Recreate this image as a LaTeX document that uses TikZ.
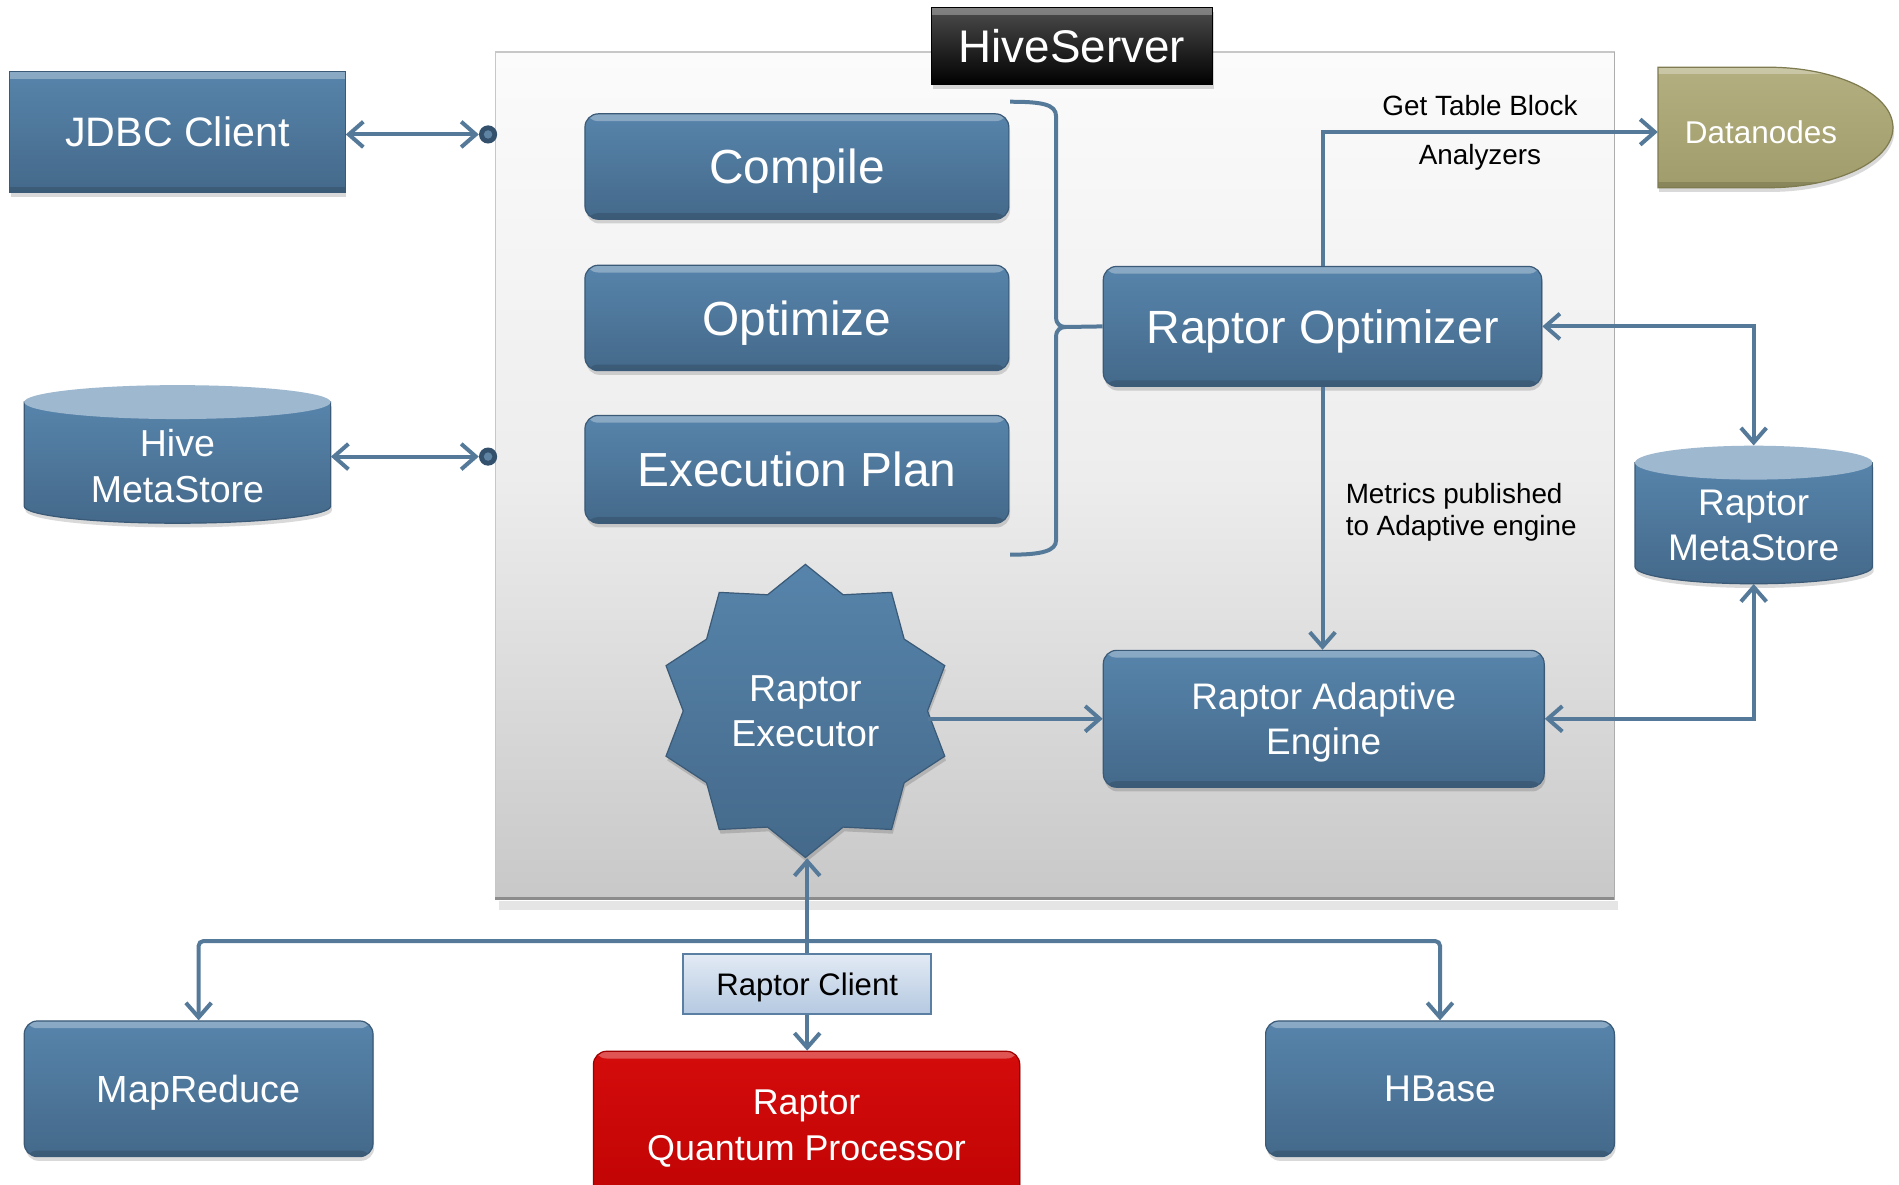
\documentclass[tikz,border=0pt]{standalone}
\usepackage{fontspec}
\setmainfont{Liberation Sans}
\usetikzlibrary{arrows.meta,shapes.geometric,shadows}
\definecolor{boxtop}{HTML}{5784AB}
\definecolor{boxbot}{HTML}{44698A}
\definecolor{boxline}{HTML}{3A5A77}
\definecolor{conncol}{HTML}{557A99}
\definecolor{redtop}{HTML}{D40B0B}
\definecolor{redbot}{HTML}{C10404}
\definecolor{redline}{HTML}{9E0000}
\definecolor{olivetop}{HTML}{B3AF80}
\definecolor{olivebot}{HTML}{A09C6B}
\definecolor{oliveline}{HTML}{7F7B50}
\definecolor{cyltopc}{HTML}{9EB8CF}
\definecolor{clienttop}{HTML}{E2EAF4}
\definecolor{clientbot}{HTML}{B5C9E1}
\definecolor{clientline}{HTML}{5B7FA3}
\definecolor{dotc}{HTML}{33506C}
\definecolor{dotin}{HTML}{5F83A3}
\definecolor{paneltop}{HTML}{FBFBFB}
\definecolor{panelmid}{HTML}{EDEDED}
\definecolor{panelbot}{HTML}{C8C8C8}
\tikzset{
  bevel/.style={path picture={
    \fill[white,opacity=0.30] (path picture bounding box.north west) rectangle ([yshift=-6pt]path picture bounding box.north east);
    \fill[black,opacity=0.14] ([yshift=5pt]path picture bounding box.south west) rectangle (path picture bounding box.south east);}},
  softshadow/.style={drop shadow={shadow xshift=1pt,shadow yshift=-3.5pt,opacity=0.15,fill=black}},
  bluebox/.style={rectangle,rounded corners=11pt,top color=boxtop,bottom color=boxbot,draw=boxline,line width=1pt,text=white,align=center,inner sep=0pt,text depth=0pt,bevel,softshadow},
  redbox/.style={bluebox,top color=redtop,bottom color=redbot,draw=redline},
  hsbox/.style={rectangle,top color=black!70,bottom color=black,draw=black,line width=1pt,text=white,inner sep=0pt,text depth=0pt,bevel,softshadow},
  clientbox/.style={rectangle,top color=clienttop,bottom color=clientbot,draw=clientline,line width=1.5pt,text=black,inner sep=0pt,text depth=0pt},
  starbox/.style={star,star points=10,star point ratio=1.2,inner sep=0pt,text depth=0pt,top color=boxtop,bottom color=boxbot,draw=boxline,line width=1pt,text=white,align=center,softshadow},
  wtext/.style={text=white,align=center,inner sep=0pt},
  lbl/.style={text=black,inner sep=0pt,font=\fontsize{23}{26.5}\selectfont},
  dotn/.style={circle,fill=dotc,minimum size=15pt,inner sep=0pt,path picture={\fill[dotin] (path picture bounding box.center) circle (3.5pt);}},
  ghost/.style={rectangle,inner sep=0pt},
  conn/.style={draw=conncol,line width=3.3pt,>={Straight Barb[length=12pt,width=21pt]}},
  fA/.style={font=\fontsize{39.5}{47}\selectfont},
  fB/.style={font=\fontsize{31}{37.5}\selectfont}
}
\begin{document}
\begin{tikzpicture}[x=1pt,y=-1pt]
\useasboundingbox (0,0) rectangle (1568,978);
\clip (0,0) rectangle (1568,978);
\fill[white] (0,0) rectangle (1568,978);

% HiveServer panel
\fill[black!10] (412,744) rectangle (1336,751);
\path[top color=paneltop,bottom color=panelbot,middle color=panelmid,draw=black!22,line width=1pt] (409,43) rectangle (1333,743);
\draw[black!32,line width=1.5pt] (1333,43) -- (1333,743);
\draw[black!45,line width=3pt] (409,742) -- (1333,742);
\node[hsbox,minimum width=232pt,minimum height=64pt,font=\fontsize{37.8}{45}\selectfont] (hs) at (885,38) {HiveServer};

% left side
\node[bluebox,rounded corners=0pt,minimum width=277pt,minimum height=100pt,font=\fontsize{34}{40}\selectfont] (jdbc) at (146.5,109) {JDBC Client};
\node[dotn] (jdot) at (403,111) {};

\path[top color=boxtop,bottom color=boxbot,draw=boxline,line width=1pt,softshadow]
  (20,332) -- (20,418) .. controls (20,425.7) and (76.7,432) .. (146.5,432)
  .. controls (216.3,432) and (273,425.7) .. (273,418) -- (273,332) -- cycle;
\fill[cyltopc] (146.5,332) ellipse [x radius=126.5, y radius=14];
\node[ghost,minimum width=253pt,minimum height=114pt] (hms) at (146.5,375) {};
\node[wtext,fB] (hmstext) at (146.5,385) {Hive\\MetaStore};
\node[dotn] (hdot) at (403,377) {};

% HiveServer content
\node[bluebox,minimum width=350pt,minimum height=87pt,fA] (comp) at (658,137.5) {Compile};
\node[bluebox,minimum width=350pt,minimum height=87pt,fA] (opt) at (658,262.5) {Optimize};
\node[bluebox,minimum width=350pt,minimum height=89pt,fA] (ep) at (658,387.5) {Execution Plan};
\node[bluebox,minimum width=362pt,minimum height=99pt,font=\fontsize{38.5}{46}\selectfont] (ro) at (1092,269.5) {Raptor Optimizer};
\node[bluebox,minimum width=364pt,minimum height=113pt,font=\fontsize{30.5}{37}\selectfont] (rae) at (1093,593.5) {Raptor Adaptive\\Engine};
\node[starbox,minimum size=242pt,fB] (rex) at (665,587) {Raptor\\Executor};

% brace
\coordinate (brtip) at (880,270);
\draw[conn] (834,84) .. controls (860,84) and (872,86) .. (872,96) -- (872,262)
  .. controls (872,268) and (876,270) .. (brtip) .. controls (876,270) and (872,272) .. (872,278)
  -- (872,446) .. controls (872,455) and (860,458) .. (834,458);
\draw[conn] (brtip) -- (ro.west);

% right side
\path[top color=olivetop,bottom color=olivebot,draw=oliveline,line width=1pt,bevel,softshadow]
  (1369,55.5) -- (1460,55.5) .. controls (1516.9,55.5) and (1563,77.8) .. (1563,105.25)
  .. controls (1563,132.7) and (1516.9,155) .. (1460,155) -- (1369,155) -- cycle;
\node[ghost,minimum width=170pt,minimum height=99pt,text=white,font=\fontsize{26}{31}\selectfont] (dn) at (1454,109) {Datanodes};

\path[top color=boxtop,bottom color=boxbot,draw=boxline,line width=1pt,softshadow]
  (1350,382) -- (1350,468) .. controls (1350,475.7) and (1393.9,482) .. (1448,482)
  .. controls (1502.1,482) and (1546,475.7) .. (1546,468) -- (1546,382) -- cycle;
\fill[cyltopc] (1448,382) ellipse [x radius=98, y radius=14];
\node[ghost,minimum width=196pt,minimum height=114pt] (rms) at (1448,425) {};
\node[wtext,font=\fontsize{30.6}{37.5}\selectfont] (rmstext) at (1448,434) {Raptor\\MetaStore};

% bottom
\node[bluebox,minimum width=288pt,minimum height=112pt,font=\fontsize{31.2}{37}\selectfont] (mr) at (164,899) {MapReduce};
\node[bluebox,minimum width=288pt,minimum height=112pt,font=\fontsize{30.7}{37}\selectfont] (hb) at (1189,899) {HBase};
\node[redbox,minimum width=352pt,minimum height=122pt,font=\fontsize{29.6}{38}\selectfont] (rqp) at (666,929) {Raptor\\Quantum Processor};
\node[clientbox,minimum width=205pt,minimum height=49pt,font=\fontsize{25.7}{30}\selectfont] (rc) at (666.5,812.5) {Raptor Client};

% labels
\node[lbl] (gtb) at (1222,87) {Get Table Block};
\node[lbl] (anl) at (1222,130) {Analyzers};
\node[lbl,anchor=west,align=left] (mlab) at (1111,423) {Metrics published\\to Adaptive engine};

% connectors
\draw[conn,<->] (jdbc.east |- jdot) -- (jdot.west);
\draw[conn,<->] (hms.east |- hdot) -- (hdot.west);
\draw[conn,->] (ro.north) |- (dn.west);
\draw[conn,<->] (ro.east) -| (rms.north);
\draw[conn,->] (ro.south) -- (ro.south |- rae.north);
\draw[conn,<->] (rae.east) -| (rms.south);
\draw[conn,->] (rex.east |- rae.west) -- (rae.west);
\draw[conn,->] (rc.north) -- (rc.north |- rex.south);
\coordinate (j) at (666.5,777);
\draw[conn,->,rounded corners=4pt] (j) -| (mr.north);
\draw[conn,->,rounded corners=4pt] (j) -| (hb.north);
\draw[conn,->] (rc.south) -- (rc.south |- rqp.north);
\end{tikzpicture}
\end{document}
